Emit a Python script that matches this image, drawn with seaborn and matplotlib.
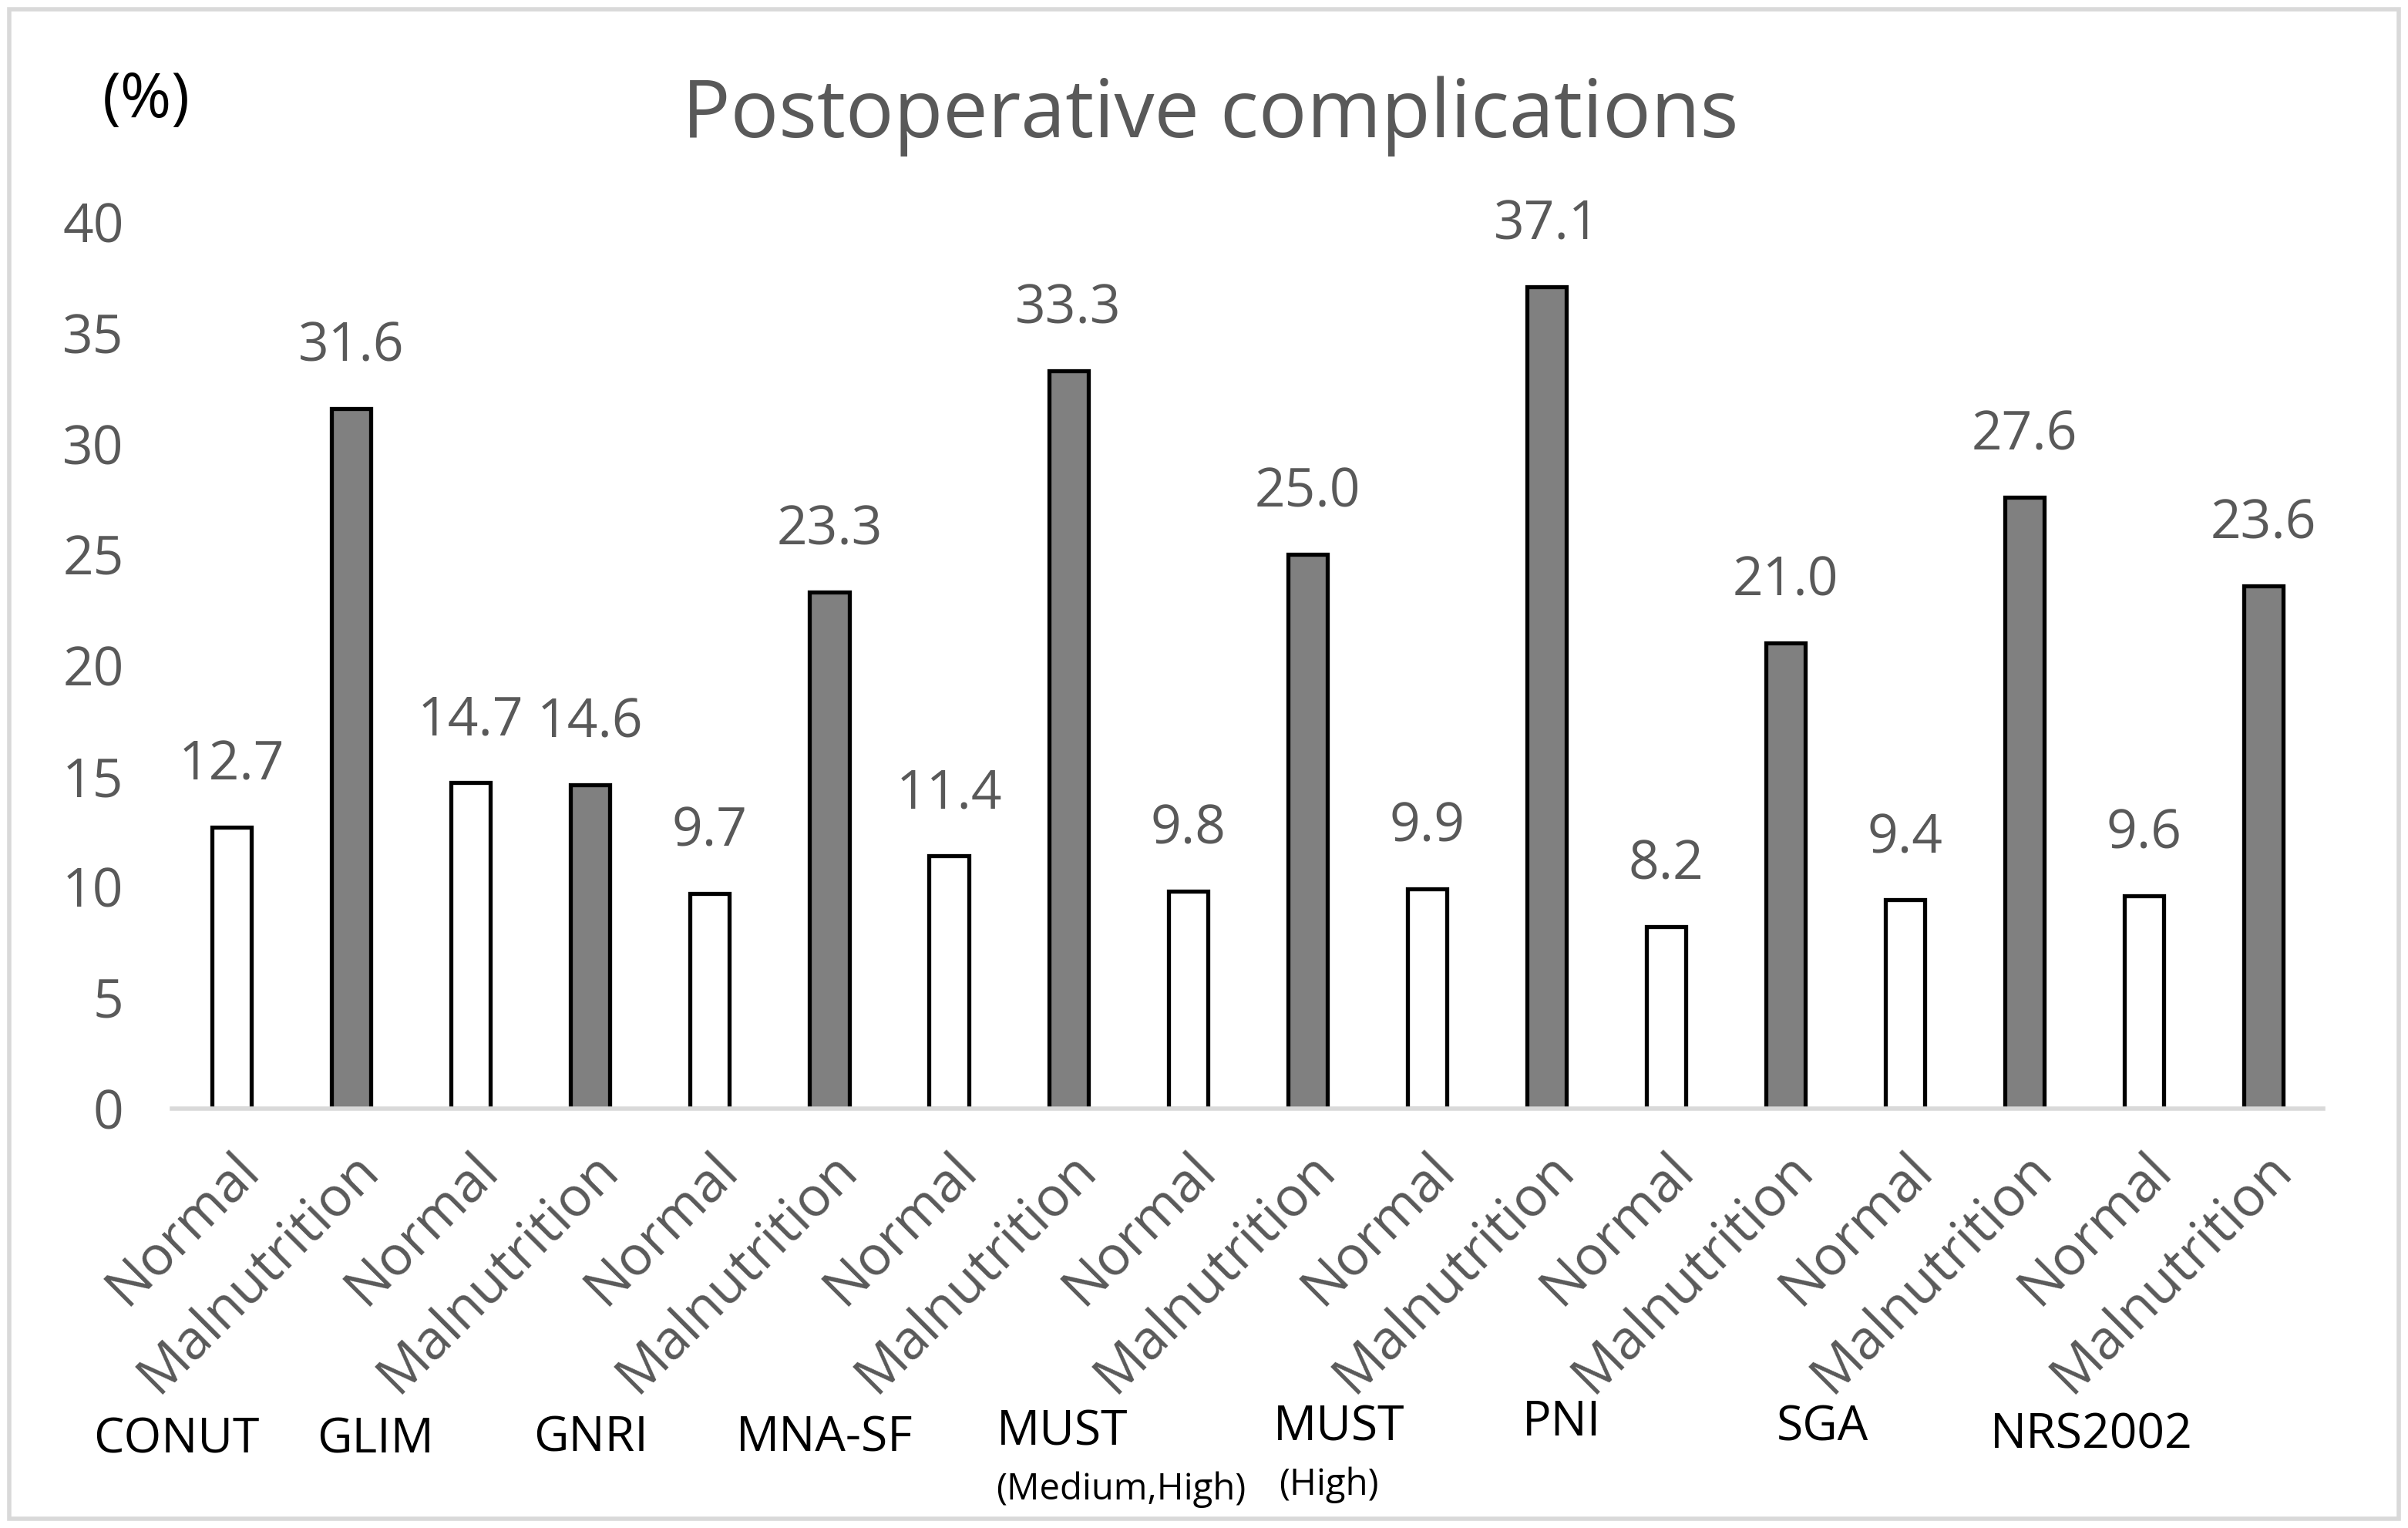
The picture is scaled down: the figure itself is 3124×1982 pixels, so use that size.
import matplotlib
matplotlib.use("Agg")
import matplotlib.pyplot as plt
import pandas as pd
import seaborn as sns
from matplotlib.patches import Rectangle

sns.set_style('white')
plt.rcParams['font.family'] = ['Open Sans', 'DejaVu Sans']

# data
tools = ['CONUT', 'GLIM', 'GNRI', 'MNA-SF', 'MUST', 'MUST', 'PNI', 'SGA', 'NRS2002']
tool_notes = ['', '', '', '', '(Medium,High)', '(High)', '', '', '']
normal = [12.7, 14.7, 9.7, 11.4, 9.8, 9.9, 8.2, 9.4, 9.6]
malnutrition = [31.6, 14.6, 23.3, 33.3, 25.0, 37.1, 21.0, 27.6, 23.6]
status_names = ['Normal', 'Malnutrition']
yticks = [0, 5, 10, 15, 20, 25, 30, 35, 40]

rows = []
for i, t in enumerate(tools):
    rows.append({'bar': f'{i}_{t}_N', 'status': 'Normal', 'value': normal[i]})
    rows.append({'bar': f'{i}_{t}_M', 'status': 'Malnutrition', 'value': malnutrition[i]})
df = pd.DataFrame(rows)

grey = '#595959'
fig = plt.figure(figsize=(31.24, 19.82), dpi=100)
fig.patches.append(Rectangle((0.004, 0.006), 0.992, 0.988, transform=fig.transFigure,
                             fill=False, edgecolor='#d9d9d9', linewidth=4))
ax = fig.add_axes([0.0714, 0.2747, 0.8935, 0.5798])

sns.barplot(data=df, x='bar', y='value', hue='status', hue_order=status_names,
            palette={'Normal': 'white', 'Malnutrition': '#808080'},
            dodge=False, width=0.33, edgecolor='black', linewidth=3.8,
            legend=False, ax=ax)

for c in ax.containers:
    ax.bar_label(c, fmt='%.1f', padding=32, fontsize=50, color=grey)

ax.set_xlim(-0.5, len(df) - 0.5)
ax.set_ylim(0, 40)
ax.set_yticks(yticks)
ax.set_yticklabels([str(v) for v in yticks], fontsize=50, color=grey)
ax.set_xticks(range(len(df)))
ax.set_xticklabels(df['status'], rotation=45, ha='right', va='top',
                   rotation_mode='anchor', fontsize=51, color=grey)
ax.tick_params(axis='x', length=0, pad=32)
ax.tick_params(axis='y', length=0, pad=45)
ax.set_xlabel('')
ax.set_ylabel('')
for s in ['top', 'right', 'left']:
    ax.spines[s].set_visible(False)
ax.spines['bottom'].set_color('#d9d9d9')
ax.spines['bottom'].set_linewidth(4)

fig.text(0.5026, 0.924, 'Postoperative complications', ha='center', va='center',
         fontsize=75, color=grey)
fig.text(0.0606, 0.934, '(%)', ha='center', va='center', fontsize=58, color='black')

# tool names under the paired bars
name_x = [0.0733, 0.156, 0.2455, 0.3425, 0.4413, 0.556, 0.6486, 0.757, 0.8686]
name_y = [0.0576, 0.0576, 0.0586, 0.0586, 0.0626, 0.0657, 0.0687, 0.0657, 0.0606]
note_x = [0, 0, 0, 0, 0.4656, 0.5517, 0, 0, 0]
note_y = [0, 0, 0, 0, 0.0253, 0.0283, 0, 0, 0]
for i, t in enumerate(tools):
    fig.text(name_x[i], name_y[i], t, ha='center', va='center', fontsize=45, color='black')
    if tool_notes[i]:
        fig.text(note_x[i], note_y[i], tool_notes[i], ha='center', va='center',
                 fontsize=34, color='black')

fig.savefig('out.png', dpi=100)
